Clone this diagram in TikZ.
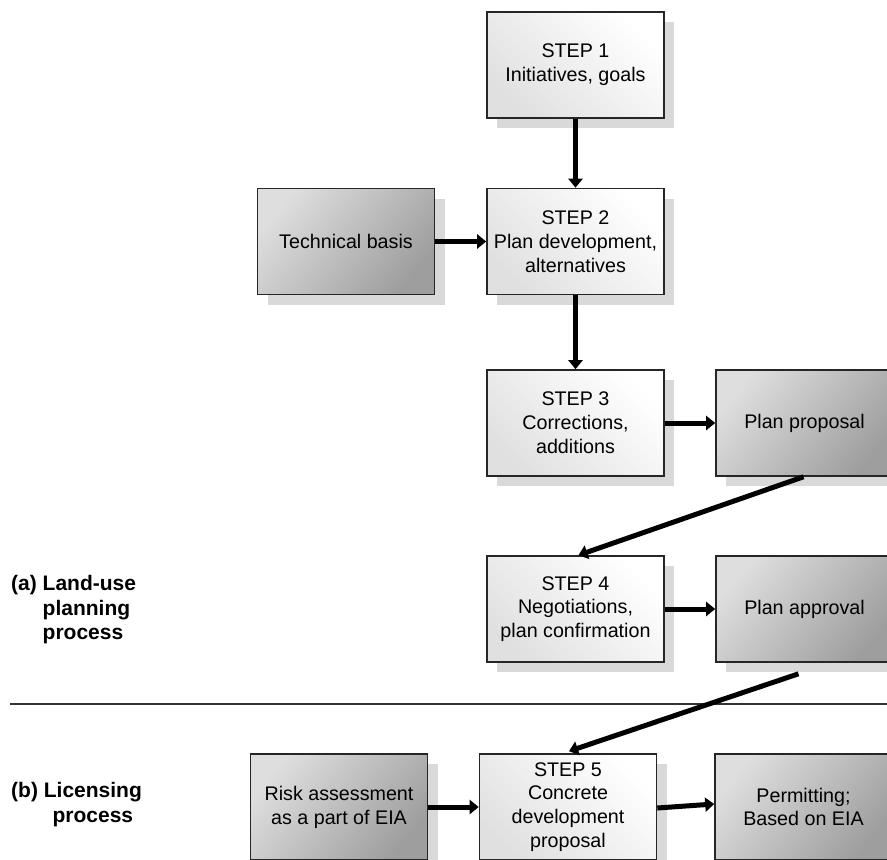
\documentclass[tikz,border=0pt]{standalone}
\usepackage{fontspec}
\setmainfont{Liberation Sans}
\usetikzlibrary{arrows.meta,shadows,calc}
\begin{document}
\begin{tikzpicture}[x=1pt,y=-1pt,
 box/.style={draw=black!85, line width=1.6pt, minimum width=177pt, minimum height=106pt,
   align=center, inner sep=2pt, font=\fontsize{19.7}{23.8}\selectfont,
   drop shadow={shadow xshift=10pt, shadow yshift=-10pt, opacity=1, fill=black!15}},
 whitebox/.style={box, top color=white, bottom color=black!12, shading angle=-45},
 graybox/.style={box, top color=black!13, bottom color=black!38, shading angle=50},
 flow/.style={line width=5pt, -{Triangle[length=9pt,width=14pt]}},
 lbl/.style={font=\fontsize{21}{24.5}\selectfont\bfseries, anchor=north west, inner sep=0pt}]
\clip (0,0) rectangle (887,860);
\useasboundingbox (0,0) rectangle (887,860);

\node[whitebox] (s1) at (575.5,65) {STEP 1\\Initiatives, goals};
\node[graybox] (tb) at (346,241.5) {Technical basis};
\node[whitebox] (s2) at (575.5,241.5) {STEP 2\\Plan development,\\alternatives};
\node[whitebox] (s3) at (575.5,423) {STEP 3\\Corrections,\\additions};
\node[graybox] (pp) at (804.5,423) {Plan proposal};
\node[whitebox] (s4) at (575.5,609) {STEP 4\\Negotiations,\\plan confirmation};
\node[graybox] (pa) at (804.5,609) {Plan approval};
\node[graybox] (risk) at (339,807) {Risk assessment\\as a part of EIA};
\node[whitebox] (s5) at (568,807) {STEP 5\\Concrete\\development\\proposal};
\node[graybox] (perm) at (803.5,807) {Permitting;\\Based on EIA};

\coordinate (sepL) at (10,704);
\coordinate (sepR) at (892,704);
\draw[line width=1.5pt, black!80] (sepL) -- (sepR);

\node[lbl] (la) at (11,573.5) {\begin{tabular}{@{}l@{\ }l@{}}(a)&Land-use\\&planning\\&process\end{tabular}};
\node[lbl] (lb) at (11,780.5) {\begin{tabular}{@{}l@{\ }c@{}}(b)&Licensing\\&process\end{tabular}};

\draw[flow] (s1.south) -- (s2.north);
\draw[flow] (tb.east) -- (s2.west);
\draw[flow] (s2.south) -- (s3.north);
\draw[flow] (s3.east) -- (pp.west);
\draw[flow] ($(pp.south)+(-1,0)$) -- ($(s4.north)+(3,0)$);
\draw[flow] (s4.east) -- (pa.west);
\draw[flow] ($(pa.south)+(-6,11)$) -- ($(s5.north)+(1,-2)$);
\draw[flow] (risk.east) -- (s5.west);
\draw[flow] ($(s5.east)+(0,1)$) -- ($(perm.west)+(0,-3)$);
\end{tikzpicture}
\end{document}
